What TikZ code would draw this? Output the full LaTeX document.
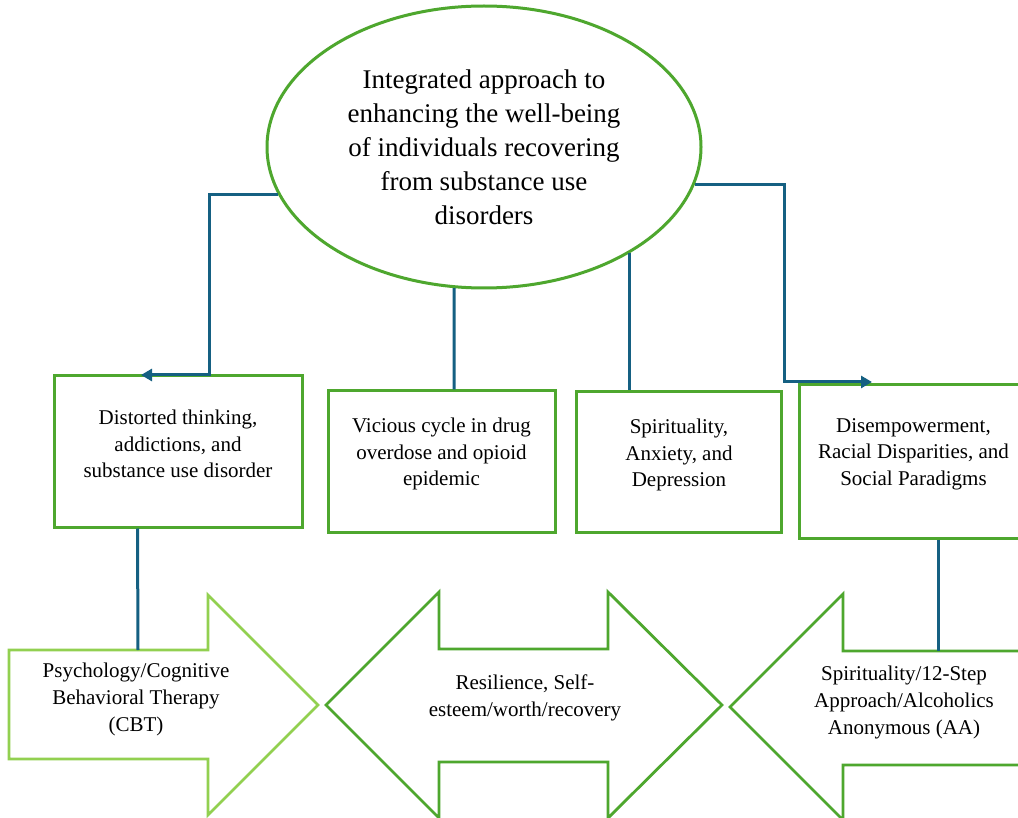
\documentclass[tikz,border=0pt]{standalone}
\usepackage{fontspec}
\setmainfont{Liberation Serif}
\usetikzlibrary{shapes.geometric,arrows.meta}
\definecolor{grn}{HTML}{4EA72E}
\definecolor{lgrn}{HTML}{92D050}
\definecolor{blu}{HTML}{156082}
\tikzset{
  box/.style={draw=grn, line width=3pt, rectangle, inner sep=0pt},
  txt/.style={align=center, font=\fontsize{21}{26.5}\selectfont, inner sep=0pt},
  atxt/.style={align=center, font=\fontsize{21}{27}\selectfont, inner sep=0pt},
  conn/.style={draw=blu, line width=3pt},
  tipped/.style={-{Triangle[length=11pt,width=12pt]}},
  shp/.style={draw=grn, line width=2.8pt, line join=miter},
}
\begin{document}
\begin{tikzpicture}[x=1pt,y=-1pt]
\clip (0,0) rectangle (1018,818);
\fill[white] (0,0) rectangle (1018,818);

% central ellipse
\node[ellipse, draw=grn, line width=3pt, minimum width=434pt, minimum height=282pt, inner sep=0pt,
      align=center, font=\fontsize{27}{34}\selectfont] (ell) at (484,147)
  {Integrated approach to\\enhancing the well-being\\of individuals recovering\\from substance use\\disorders};

% boxes
\node[box, minimum width=248pt, minimum height=151pt] (b1) at (178,451.5) {};
\node[txt] (t1) at (178,444) {Distorted thinking,\\addictions, and\\substance use disorder};
\node[box, minimum width=227pt, minimum height=141pt] (b2) at (441.5,461.5) {};
\node[txt] (t2) at (441.5,454) {Vicious cycle in drug\\overdose and opioid\\epidemic};
\node[box, minimum width=205pt, minimum height=140pt] (b3) at (678.5,462) {};
\node[txt] (t3) at (679,455) {Spirituality,\\Anxiety, and\\Depression};
\node[box, minimum width=229pt, minimum height=153pt] (b4) at (913.5,461.5) {};
\node[txt] (t4) at (913.5,454) {Disempowerment,\\Racial Disparities, and\\Social Paradigms};

% bottom arrows
\draw[shp, draw=lgrn] (9,650) -- (208,650) -- (208,595) -- (318,705) -- (208,815) -- (208,759) -- (9,759) -- cycle;
\coordinate (p1) at (138,650);
\node[atxt] (a1t) at (136,699) {Psychology/Cognitive\\Behavioral Therapy\\(CBT)};

\draw[shp] (326,705) -- (439,592) -- (439,649) -- (608,649) -- (608,592) -- (722,705)
  -- (608,818) -- (608,762) -- (439,762) -- (439,818) -- cycle;
\node[atxt] (a2t) at (525,698) {Resilience, Self-\\esteem/worth/recovery};

\draw[shp] (730,707) -- (843,594) -- (843,651) -- (1030,651) -- (1030,765) -- (843,765) -- (843,820) -- cycle;
\coordinate (p3) at (938,651);
\node[atxt] (a3t) at (904,702) {Spirituality/12-Step\\Approach/Alcoholics\\Anonymous (AA)};

% connectors
\coordinate (k1) at (209,375);
\coordinate (e1) at (141,375);
\draw[conn, tipped] (ell.193) -| (k1) -- (e1);
\coordinate (k2) at (784,382);
\coordinate (e2) at (872,382);
\draw[conn, tipped] (ell.350.6) -| (k2) -- (e2);
\draw[conn] (ell.258.6) -- ([xshift=12.5pt]b2.north);
\draw[conn] (ell.324.1) -- (ell.324.1 |- b3.north);
\draw[conn] ([xshift=-40.5pt]b1.south) -- (p1);
\draw[conn] ([xshift=24.5pt]b4.south) -- (p3);
\end{tikzpicture}
\end{document}
